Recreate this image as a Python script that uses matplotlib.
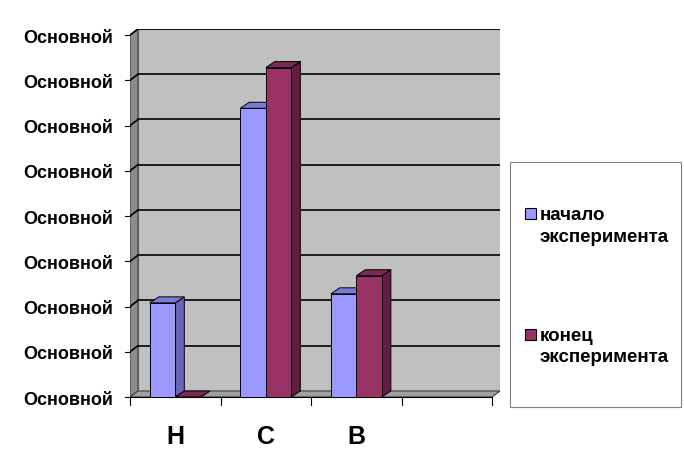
import matplotlib.pyplot as plt
from matplotlib.patches import Polygon, Rectangle

plt.rcParams['font.family'] = ['Liberation Sans', 'DejaVu Sans']

# data
categories = ["Н", "С", "В"]
n_slots = 4  # the chart keeps one empty slot on the right
tick_labels = ["Основной"] * 9
series_names = [["начало", "эксперимента"], ["конец", "эксперимента"]]
start_values = [2.08, 6.38, 2.28]
end_values = [0.0, 7.28, 2.68]

front_cols = ["#9999FF", "#993366"]
side_cols = ["#6666B3", "#611D42"]
top_cols = ["#7B7BD6", "#7A2952"]

fig = plt.figure(figsize=(6.84, 4.63), dpi=100)
W, H = 684, 463
ax = fig.add_axes([130 / W, (H - 397) / H, 370 / W, 368 / H])

ymax = 8
dx, dy = 0.088, 0.133      # depth of walls / floor
bdx, bdy = 0.1, 0.133      # depth of bars
w = 0.282                  # bar width

ax.set_xlim(0, n_slots + dx)
ax.set_ylim(0, ymax + dy)
ax.axis("off")

# back wall
ax.add_patch(Polygon([(dx, dy), (n_slots + dx, dy), (n_slots + dx, ymax + dy), (dx, ymax + dy)],
                     closed=True, fc="#C0C0C0", ec="#808080", lw=0.8, zorder=1))
# left wall
ax.add_patch(Polygon([(0, 0), (dx, dy), (dx, ymax + dy), (0, ymax)],
                     closed=True, fc="#8C8C8C", ec="#404040", lw=0.8, zorder=1))
# floor
ax.add_patch(Polygon([(0, 0), (n_slots, 0), (n_slots + dx, dy), (dx, dy)],
                     closed=True, fc="#A0A0A0", ec="#404040", lw=0.8, zorder=1))

# gridlines
for k in range(1, ymax + 1):
    ax.plot([dx, n_slots + dx], [k + dy, k + dy], color="black", lw=1.2, zorder=2)
    ax.plot([0, dx], [k, k + dy], color="black", lw=1.2, zorder=2)

# y ticks and labels
for k, lab in enumerate(tick_labels):
    ax.plot([-0.055, 0], [k, k], color="black", lw=0.8, clip_on=False, zorder=2)
    ax.text(-0.19, k - 0.17, lab, ha="right", va="baseline", fontsize=13,
            fontweight="bold", clip_on=False)

# x ticks and category labels
ax.plot([0, n_slots], [0, 0], color="black", lw=0.8, clip_on=False, zorder=2)
for i in range(n_slots + 1):
    ax.plot([i, i], [0, -0.18], color="black", lw=0.8, clip_on=False, zorder=2)
for i, cat in enumerate(categories):
    ax.text(i + 0.5, -1.04, cat, ha="center", va="baseline", fontsize=18,
            fontweight="bold", clip_on=False)

# bars
for i in range(len(categories)):
    for j, vals in enumerate([start_values, end_values]):
        v = vals[i]
        x0 = i + 0.5 - w + j * w
        x1 = x0 + w
        z = 3 + i * 2 + j
        ax.add_patch(Polygon([(x1, 0), (x1 + bdx, bdy), (x1 + bdx, v + bdy), (x1, v)],
                             closed=True, fc=side_cols[j], ec="black", lw=0.7, zorder=z))
        ax.add_patch(Polygon([(x0, v), (x1, v), (x1 + bdx, v + bdy), (x0 + bdx, v + bdy)],
                             closed=True, fc=top_cols[j], ec="black", lw=0.7, zorder=z))
        if v > 0:
            ax.add_patch(Rectangle((x0, 0), w, v, fc=front_cols[j], ec="black",
                                   lw=0.7, zorder=z))

# legend box
fig.patches.append(Rectangle((510 / W, (H - 407) / H), 171 / W, 245 / H,
                             transform=fig.transFigure, fc="white", ec="#808080", lw=0.8))
leg_base = [220, 340.7]
for j, lines in enumerate(series_names):
    b = leg_base[j]
    fig.patches.append(Rectangle((525 / W, (H - b + 1) / H), 11 / W, 11 / H,
                                 transform=fig.transFigure, fc=front_cols[j], ec="black", lw=0.8))
    for n, line in enumerate(lines):
        fig.text(540 / W, (H - b - n * 21.8) / H, line, ha="left", va="baseline",
                 fontsize=13.5, fontweight="bold")

fig.savefig("out.png", dpi=100)
